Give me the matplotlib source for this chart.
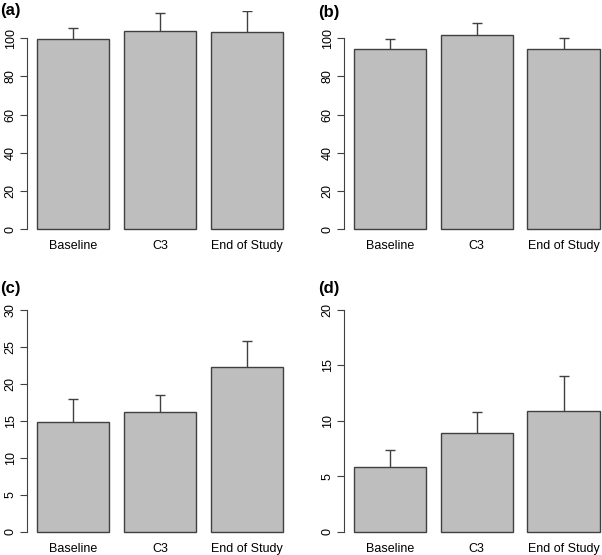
import matplotlib.pyplot as plt
import numpy as np

plt.rcParams['font.family'] = ['Liberation Sans', 'DejaVu Sans']

groups = ['Baseline', 'C3', 'End of Study']
panel_labels = ['(a)', '(b)', '(c)', '(d)']

a_mean = [99.7, 103.7, 103.1]
a_err = [5.5, 9.2, 10.9]
b_mean = [94.3, 101.6, 94.3]
b_err = [5.3, 6.4, 5.5]
c_mean = [14.9, 16.25, 22.35]
c_err = [3.05, 2.2, 3.5]
d_mean = [5.87, 8.88, 10.86]
d_err = [1.53, 1.92, 3.16]

means = [a_mean, b_mean, c_mean, d_mean]
errs = [a_err, b_err, c_err, d_err]
ymax = [110, 110, 30, 20]
yticks = [np.arange(0, 101, 20), np.arange(0, 101, 20),
          np.arange(0, 31, 5), np.arange(0, 21, 5)]

W, H = 602, 555
fig = plt.figure(figsize=(W / 100, H / 100), dpi=100)

# axes boxes in pixels: left, top, right, bottom
boxes = [(27.2, 10.5, 292.8, 237.7), (344.0, 10.5, 609.6, 237.7),
         (27.2, 301.1, 292.8, 540.6), (344.0, 301.1, 609.6, 540.6)]
title_pos = [(0, 11), (318, 13), (0, 288), (318, 288)]

edge = '#404040'
x = np.array([0.7, 1.9, 3.1])

for i in range(4):
    l, t, r, b = boxes[i]
    ax = fig.add_axes([l / W, (H - b) / H, (r - l) / W, (b - t) / H])
    ax.bar(x, means[i], width=1.0, color='#bebebe', edgecolor=edge, linewidth=1.0)
    tops = np.array(means[i]) + np.array(errs[i])
    ax.vlines(x, means[i], tops, color=edge, linewidth=1.0)
    ax.hlines(tops, x - 0.07, x + 0.07, color=edge, linewidth=1.0)
    ext = 0.04 * ymax[i]
    ax.set_ylim(-ext, ymax[i] + ext)
    ax.set_xlim(0.2 - 0.136, 3.6 + 0.136)
    for s in ['top', 'right', 'bottom']:
        ax.spines[s].set_visible(False)
    ax.spines['left'].set_bounds(0, yticks[i][-1])
    ax.spines['left'].set_color(edge)
    ax.set_yticks(yticks[i])
    ax.set_yticklabels([str(v) for v in yticks[i]], rotation=90, va='center', fontsize=9)
    ax.tick_params(axis='y', length=5, width=0.8, color=edge, pad=2.5)
    ax.set_xticks(x)
    ax.set_xticklabels(groups, fontsize=9)
    ax.tick_params(axis='x', length=0, pad=2)
    ax.patch.set_alpha(0)
    tx, ty = title_pos[i]
    fig.text(tx / W, 1 - ty / H, panel_labels[i], fontsize=12, fontweight='bold',
             ha='left', va='center')

fig.savefig('out.png', dpi=100)
